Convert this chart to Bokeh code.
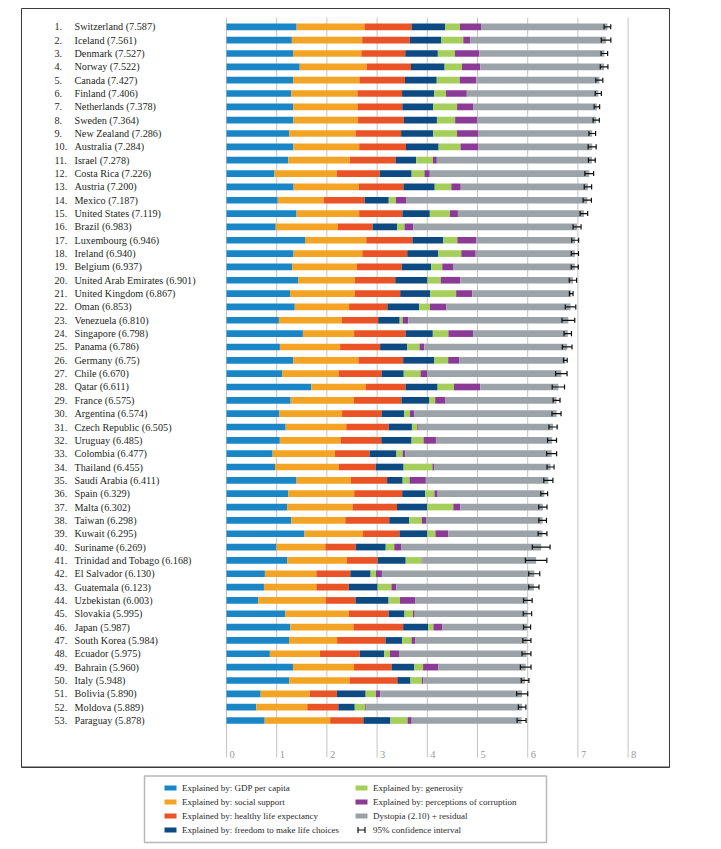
import numpy as np
from bokeh.plotting import figure
from bokeh.models import Range1d, ColumnDataSource
from bokeh.layouts import column
from bokeh.embed import file_html
from bokeh.resources import INLINE
from bokeh.core.properties import value

countries = ["Switzerland", "Iceland", "Denmark", "Norway", "Canada", "Finland", "Netherlands",
             "Sweden", "New Zealand", "Australia", "Israel", "Costa Rica", "Austria", "Mexico",
             "United States", "Brazil", "Luxembourg", "Ireland", "Belgium", "United Arab Emirates",
             "United Kingdom", "Oman", "Venezuela", "Singapore", "Panama", "Germany", "Chile",
             "Qatar", "France", "Argentina", "Czech Republic", "Uruguay", "Colombia", "Thailand",
             "Saudi Arabia", "Spain", "Malta", "Taiwan", "Kuwait", "Suriname", "Trinidad and Tobago",
             "El Salvador", "Guatemala", "Uzbekistan", "Slovakia", "Japan", "South Korea", "Ecuador",
             "Bahrain", "Italy", "Bolivia", "Moldova", "Paraguay"]

score_labels = ["7.587", "7.561", "7.527", "7.522", "7.427", "7.406", "7.378", "7.364", "7.286",
                "7.284", "7.278", "7.226", "7.200", "7.187", "7.119", "6.983", "6.946", "6.940",
                "6.937", "6.901", "6.867", "6.853", "6.810", "6.798", "6.786", "6.75", "6.670",
                "6.611", "6.575", "6.574", "6.505", "6.485", "6.477", "6.455", "6.411", "6.329",
                "6.302", "6.298", "6.295", "6.269", "6.168", "6.130", "6.123", "6.003", "5.995",
                "5.987", "5.984", "5.975", "5.960", "5.948", "5.890", "5.889", "5.878"]

scores = [7.587, 7.561, 7.527, 7.522, 7.427, 7.406, 7.378, 7.364, 7.286, 7.284, 7.278, 7.226,
          7.200, 7.187, 7.119, 6.983, 6.946, 6.940, 6.937, 6.901, 6.867, 6.853, 6.810, 6.798,
          6.786, 6.750, 6.670, 6.611, 6.575, 6.574, 6.505, 6.485, 6.477, 6.455, 6.411, 6.329,
          6.302, 6.298, 6.295, 6.269, 6.168, 6.130, 6.123, 6.003, 5.995, 5.987, 5.984, 5.975,
          5.960, 5.948, 5.890, 5.889, 5.878]

gdp = [1.397, 1.302, 1.325, 1.459, 1.326, 1.290, 1.329, 1.332, 1.250, 1.334, 1.229, 0.956,
       1.337, 1.021, 1.395, 0.981, 1.564, 1.336, 1.308, 1.427, 1.266, 1.360, 1.044, 1.522,
       1.064, 1.328, 1.107, 1.690, 1.278, 1.054, 1.179, 1.062, 0.919, 0.967, 1.395, 1.230,
       1.207, 1.291, 1.554, 0.995, 1.212, 0.765, 0.746, 0.632, 1.169, 1.271, 1.245, 0.864,
       1.324, 1.251, 0.681, 0.594, 0.760]

social = [1.350, 1.402, 1.361, 1.331, 1.323, 1.318, 1.280, 1.289, 1.320, 1.309, 1.224, 1.238,
          1.297, 0.915, 1.247, 1.233, 1.220, 1.369, 1.286, 1.126, 1.285, 1.082, 1.256, 1.020,
          1.199, 1.299, 1.124, 1.079, 1.260, 1.248, 1.206, 1.209, 1.240, 1.265, 1.084, 1.314,
          1.302, 1.076, 1.166, 0.972, 1.184, 1.025, 1.044, 1.340, 1.270, 1.257, 0.958, 0.999,
          1.216, 1.198, 0.978, 1.015, 1.305]

health = [0.941, 0.948, 0.875, 0.885, 0.906, 0.889, 0.893, 0.911, 0.908, 0.932, 0.914, 0.860,
          0.890, 0.814, 0.862, 0.697, 0.919, 0.895, 0.897, 0.809, 0.909, 0.763, 0.721, 1.025,
          0.797, 0.892, 0.859, 0.797, 0.946, 0.787, 0.845, 0.812, 0.691, 0.739, 0.720, 0.956,
          0.887, 0.875, 0.725, 0.608, 0.615, 0.677, 0.644, 0.598, 0.789, 0.991, 0.965, 0.791,
          0.747, 0.954, 0.539, 0.618, 0.661]

freedom = [0.666, 0.629, 0.649, 0.670, 0.633, 0.642, 0.616, 0.660, 0.639, 0.651, 0.413, 0.634,
           0.624, 0.482, 0.546, 0.490, 0.616, 0.618, 0.585, 0.642, 0.596, 0.633, 0.429, 0.543,
           0.542, 0.615, 0.441, 0.640, 0.550, 0.450, 0.464, 0.604, 0.535, 0.557, 0.310, 0.460,
           0.604, 0.397, 0.555, 0.597, 0.559, 0.404, 0.577, 0.658, 0.318, 0.496, 0.332, 0.486,
           0.455, 0.262, 0.574, 0.328, 0.539]

generosity = [0.297, 0.436, 0.341, 0.347, 0.458, 0.234, 0.476, 0.363, 0.475, 0.436, 0.332, 0.255,
              0.331, 0.141, 0.401, 0.146, 0.280, 0.459, 0.223, 0.264, 0.519, 0.215, 0.058, 0.311,
              0.244, 0.282, 0.334, 0.326, 0.123, 0.115, 0.107, 0.239, 0.124, 0.576, 0.137, 0.182,
              0.518, 0.254, 0.162, 0.170, 0.318, 0.107, 0.275, 0.228, 0.169, 0.107, 0.186, 0.115,
              0.174, 0.228, 0.205, 0.210, 0.342]

corruption = [0.420, 0.141, 0.484, 0.365, 0.330, 0.414, 0.318, 0.438, 0.429, 0.356, 0.078, 0.106,
              0.187, 0.213, 0.159, 0.175, 0.378, 0.287, 0.225, 0.386, 0.321, 0.325, 0.111, 0.492,
              0.093, 0.218, 0.129, 0.522, 0.206, 0.085, 0.027, 0.246, 0.051, 0.032, 0.325, 0.064,
              0.136, 0.081, 0.256, 0.136, 0.011, 0.118, 0.095, 0.308, 0.034, 0.181, 0.079, 0.181,
              0.306, 0.029, 0.088, 0.016, 0.082]

dystopia = [2.517, 2.702, 2.492, 2.465, 2.452, 2.620, 2.466, 2.371, 2.264, 2.266, 3.089, 3.177,
            2.533, 3.602, 2.510, 3.260, 1.970, 1.976, 2.415, 2.247, 1.970, 2.475, 3.191, 1.885,
            2.848, 2.116, 2.676, 1.557, 2.211, 2.836, 2.678, 2.315, 2.918, 2.319, 2.439, 2.124,
            1.649, 2.323, 1.876, 2.791, 2.269, 3.035, 2.743, 2.237, 2.246, 1.684, 2.220, 2.539,
            1.738, 2.025, 2.823, 3.107, 2.189]

std_err = [0.0341, 0.0488, 0.0333, 0.0388, 0.0355, 0.0314, 0.0280, 0.0316, 0.0337, 0.0408,
           0.0347, 0.0445, 0.0375, 0.0418, 0.0384, 0.0408, 0.0350, 0.0368, 0.0360, 0.0373,
           0.0187, 0.0534, 0.0648, 0.0378, 0.0491, 0.0185, 0.0580, 0.0626, 0.0351, 0.0461,
           0.0417, 0.0454, 0.0505, 0.0356, 0.0463, 0.0347, 0.0421, 0.0387, 0.0446, 0.0901,
           0.1090, 0.0562, 0.0522, 0.0436, 0.0427, 0.0358, 0.0410, 0.0453, 0.0541, 0.0391,
           0.0564, 0.0380, 0.0456]

ticks = [0, 1, 2, 3, 4, 5, 6, 7, 8]

component_names = ["gdp", "social", "health", "freedom", "generosity", "corruption", "dystopia"]
component_colors = ["#1a86c6", "#f3a425", "#ea5326", "#0d4a82", "#a5cf5a", "#8b3a95", "#9ba3a8"]
legend_labels = ["Explained by: GDP per capita", "Explained by: social support",
                 "Explained by: healthy life expectancy", "Explained by: freedom to make life choices",
                 "Explained by: generosity", "Explained by: perceptions of corruption",
                 "Dystopia (2.10) + residual", "95% confidence interval"]

# ---------------- layout (pixels) ----------------
LEFT_PAD = 21        # page-left to frame-left
TOP_PAD = 8          # page-top to frame-top
RIGHT_PAD = 2
PX_PER_UNIT = 50.2
ZERO_PX = 205.0      # frame-left to x = 0
FRAME_W = 648
FRAME_H = 759
ROW_PX = 13.34
FIRST_ROW_PX = 18.3  # frame-top to centre of first row
GRID_TOP_PX = 9
GRID_BOT_PX = 749

SERIF = value("Liberation Serif")

x_start = -ZERO_PX / PX_PER_UNIT
x_end = (FRAME_W - ZERO_PX) / PX_PER_UNIT
y_top = 1 - FIRST_ROW_PX / ROW_PX
y_bottom = y_top + FRAME_H / ROW_PX


def ypx(px):
    return y_top + px / ROW_PX


p = figure(width=LEFT_PAD + FRAME_W + RIGHT_PAD, height=TOP_PAD + FRAME_H + 2,
           x_range=Range1d(x_start, x_end), y_range=Range1d(start=y_bottom, end=y_top),
           output_backend="svg", toolbar_location=None,
           x_axis_location=None, y_axis_location=None,
           min_border_left=LEFT_PAD, min_border_right=RIGHT_PAD, min_border_top=TOP_PAD,
           min_border_bottom=2)
p.grid.visible = False
p.outline_line_color = "#3a3a3a"
p.outline_line_width = 1
p.background_fill_color = "white"
p.border_fill_color = "white"

n = len(countries)
rank = list(range(1, n + 1))

# grid lines
p.segment(x0=ticks, x1=ticks, y0=[ypx(GRID_TOP_PX)] * len(ticks), y1=[ypx(GRID_BOT_PX)] * len(ticks),
          line_color="#c4c4c4", line_width=1)
p.text(x=ticks, y=[ypx(GRID_BOT_PX)] * len(ticks), text=[str(t) for t in ticks],
       x_offset=3, text_baseline="bottom", text_align="left", text_color="#9a9a9a",
       text_font=SERIF, text_font_size="10.5px")

src = ColumnDataSource(dict(rank=rank, gdp=gdp, social=social, health=health, freedom=freedom,
                            generosity=generosity, corruption=corruption, dystopia=dystopia))
p.hbar_stack(component_names, y="rank", height=0.5, fill_color=component_colors,
             line_color=None, source=src)

sc = np.array(scores)
ci = 1.96 * np.array(std_err)
lo = sc - ci
hi = sc + ci
r = np.array(rank, dtype=float)
p.segment(x0=lo, x1=hi, y0=r, y1=r, line_color="#111111", line_width=1.2)
p.segment(x0=lo, x1=lo, y0=r - 0.19, y1=r + 0.19, line_color="#111111", line_width=1.2)
p.segment(x0=hi, x1=hi, y0=r - 0.19, y1=r + 0.19, line_color="#111111", line_width=1.2)

# thicker bottom edge of the frame
p.segment(x0=[x_start], x1=[x_end], y0=[y_bottom], y1=[y_bottom], line_color="#3a3a3a", line_width=2)

# row labels
p.text(x=[x_start] * n, y=rank, text=[f"{i}." for i in rank], x_offset=33,
       text_baseline="middle", text_align="left", text_color="#231f20",
       text_font=SERIF, text_font_size="10.2px")
p.text(x=[x_start] * n, y=rank, text=[f"{c} ({s})" for c, s in zip(countries, score_labels)],
       x_offset=53, text_baseline="middle", text_align="left", text_color="#231f20",
       text_font=SERIF, text_font_size="10.2px")

# ---------------- legend (pixel coordinates of the page) ----------------
LTOP = TOP_PAD + FRAME_H + 2
LH = 849 - LTOP
pl = figure(width=LEFT_PAD + FRAME_W + RIGHT_PAD, height=LH,
            x_range=Range1d(LEFT_PAD, LEFT_PAD + FRAME_W),
            y_range=Range1d(start=LTOP + LH, end=LTOP),
            output_backend="svg", toolbar_location=None,
            x_axis_location=None, y_axis_location=None,
            min_border_left=LEFT_PAD, min_border_right=RIGHT_PAD, min_border_top=0, min_border_bottom=0)
pl.grid.visible = False
pl.outline_line_color = None
pl.background_fill_color = "white"
pl.border_fill_color = "white"

pl.quad(left=[144], right=[546], top=[775.5], bottom=[842], fill_color=None,
        line_color="#b8b8b8", line_width=1.5)
rows = [787.5, 801.5, 815.5, 829.5]
col_sw = [164, 355]
col_tx = [181.5, 372.5]
sw_x, sw_y, sw_c = [], [], []
tx_x, tx_y = [], []
for k in range(7):
    c = k // 4
    sw_x.append(col_sw[c])
    sw_y.append(rows[k % 4])
    sw_c.append(component_colors[k])
for k in range(8):
    tx_x.append(col_tx[k // 4])
    tx_y.append(rows[k % 4])
pl.hbar(y=sw_y, left=sw_x, right=[v + 12 for v in sw_x], height=5, fill_color=sw_c, line_color=None)
pl.segment(x0=[357.5], x1=[364.5], y0=[rows[3]], y1=[rows[3]], line_color="#111111", line_width=1.2)
pl.segment(x0=[357.5, 364.5], x1=[357.5, 364.5], y0=[rows[3] - 3] * 2, y1=[rows[3] + 3] * 2,
           line_color="#111111", line_width=1.2)
pl.text(x=tx_x, y=tx_y, text=legend_labels, text_baseline="middle", text_align="left",
        text_color="#2a2a2a", text_font=SERIF, text_font_size="9px")

layout = column(p, pl, spacing=0)
open("out.html", "w").write(file_html(layout, INLINE))
